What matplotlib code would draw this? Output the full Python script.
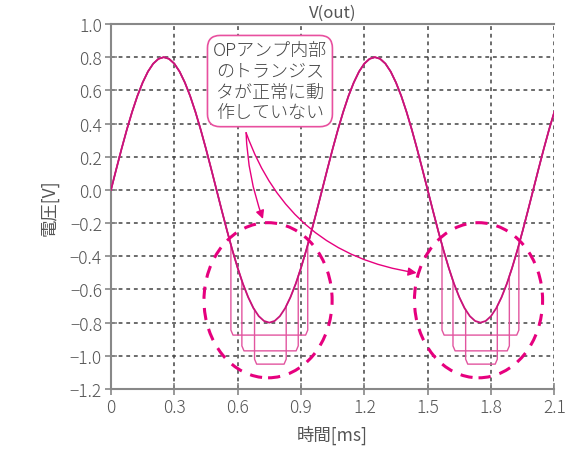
import matplotlib
matplotlib.use("Agg")
import matplotlib.pyplot as plt
from matplotlib.patches import Ellipse, FancyArrowPatch

plt.rcParams['font.family'] = ['Noto Sans CJK JP', 'DejaVu Sans']
plt.rcParams['font.weight'] = 'light'

# 時間[ms] のサンプル (0.025 ms 刻み) と V(out) の読み取り値
step_ms = 0.025
v_out = [
    0.000, 0.125, 0.247, 0.363, 0.470, 0.566, 0.647, 0.713, 0.761, 0.790,
    0.800, 0.790, 0.761, 0.713, 0.647, 0.566, 0.470, 0.363, 0.247, 0.125,
    0.000, -0.125, -0.247, -0.363, -0.470, -0.566, -0.647, -0.713, -0.761, -0.790,
    -0.800, -0.790, -0.761, -0.713, -0.647, -0.566, -0.470, -0.363, -0.247, -0.125,
    0.000, 0.125, 0.247, 0.363, 0.470, 0.566, 0.647, 0.713, 0.761, 0.790,
    0.800, 0.790, 0.761, 0.713, 0.647, 0.566, 0.470, 0.363, 0.247, 0.125,
    0.000, -0.125, -0.247, -0.363, -0.470, -0.566, -0.647, -0.713, -0.761, -0.790,
    -0.800, -0.790, -0.761, -0.713, -0.647, -0.566, -0.470, -0.363, -0.247, -0.125,
    0.000, 0.125, 0.247, 0.363, 0.470,
]
t_ms = [round(i * step_ms, 4) for i in range(len(v_out))]

# 張り付いた波形 (1周期目の谷) : 落ち込み部分の読み取り値
clip1_t = [0.568, 0.568, 0.578, 0.922, 0.932, 0.932]
clip1_v = [-0.33, -0.845, -0.875, -0.875, -0.845, -0.33]
clip2_t = [0.620, 0.620, 0.630, 0.877, 0.887, 0.887]
clip2_v = [-0.55, -0.94, -0.97, -0.97, -0.94, -0.52]
clip3_t = [0.680, 0.680, 0.690, 0.820, 0.830, 0.830]
clip3_v = [-0.72, -1.02, -1.05, -1.05, -1.02, -0.70]
period_ms = 1.0

xticks = [0, 0.3, 0.6, 0.9, 1.2, 1.5, 1.8, 2.1]
xticklabels = ['0', '0.3', '0.6', '0.9', '1.2', '1.5', '1.8', '2.1']
yticks = [1.0, 0.8, 0.6, 0.4, 0.2, 0.0, -0.2, -0.4, -0.6, -0.8, -1.0, -1.2]

note = "OPアンプ内部\nのトランジス\nタが正常に動\n作していない"

MAIN = '#c8147a'
CLIP = '#e2559f'
ACCENT = '#e6007e'
GRAY = '#555555'


def clipped_trace(ct, cv):
    xs, ys = [], []
    segs = [([t for t in ct], cv), ([t + period_ms for t in ct], cv)]
    start = -1
    for seg_t, seg_v in segs:
        for t, v in zip(t_ms, v_out):
            if start < t < seg_t[0]:
                xs.append(t)
                ys.append(v)
        xs += seg_t
        ys += seg_v
        start = seg_t[-1]
    for t, v in zip(t_ms, v_out):
        if t > start:
            xs.append(t)
            ys.append(v)
    return xs, ys


fig = plt.figure(figsize=(5.68, 4.56), dpi=100)
ax = fig.add_axes([0.1954, 0.1447, 0.7805, 0.8005])

for ct, cv in [(clip1_t, clip1_v), (clip2_t, clip2_v), (clip3_t, clip3_v)]:
    xs, ys = clipped_trace(ct, cv)
    ax.plot(xs, ys, color=CLIP, lw=1.0, zorder=3)
ax.plot(t_ms, v_out, color=MAIN, lw=1.3, zorder=4)

ax.set_xlim(0, 2.1)
ax.set_ylim(-1.2, 1.0)
ax.set_xticks(xticks)
ax.set_xticklabels(xticklabels)
ax.set_yticks(yticks)
ax.set_yticklabels([f"{y:.1f}".replace('-', '\u2212') for y in yticks])

ax.grid(True, color='#444444', linestyle=(0, (2.5, 2.5)), linewidth=1.1)
ax.set_axisbelow(True)
ax.tick_params(direction='inout', length=9, width=1.2, color='#888888',
               labelcolor=GRAY, labelsize=12.5, pad=2)
for side in ['left', 'bottom', 'top']:
    ax.spines[side].set_color('#888888')
    ax.spines[side].set_linewidth(1.5)
ax.spines['right'].set_visible(False)

ax.set_title('V(out)', fontsize=12, color=GRAY, pad=5)
ax.set_xlabel('時間[ms]', fontsize=12.5, color=GRAY, labelpad=6)
ax.set_ylabel('電圧[V]', fontsize=12.5, color=GRAY, labelpad=8)

# 破線の円
for cx in [0.744, 1.741]:
    ax.add_patch(Ellipse((cx, -0.665), 0.607, 0.935, fill=False,
                         edgecolor=ACCENT, lw=2.2, linestyle=(0, (4, 3)), zorder=5))

# 吹き出し
ax.text(0.753, 0.656, note, fontsize=13, color='#444444', ha='center', va='center',
        linespacing=1.2, zorder=7,
        bbox=dict(boxstyle='round,pad=0.3,rounding_size=0.7', fc='white',
                  ec='#e8509f', lw=1.2))

for end, rad in [((0.72, -0.175), 0.08), ((1.448, -0.50), 0.3)]:
    ax.add_patch(FancyArrowPatch((0.64, 0.345), end, arrowstyle='-|>,head_length=5,head_width=2.5',
                                 connectionstyle=f'arc3,rad={rad}', color=ACCENT,
                                 lw=1.0, zorder=6, shrinkA=0, shrinkB=0))

fig.savefig('out.png', dpi=100)
